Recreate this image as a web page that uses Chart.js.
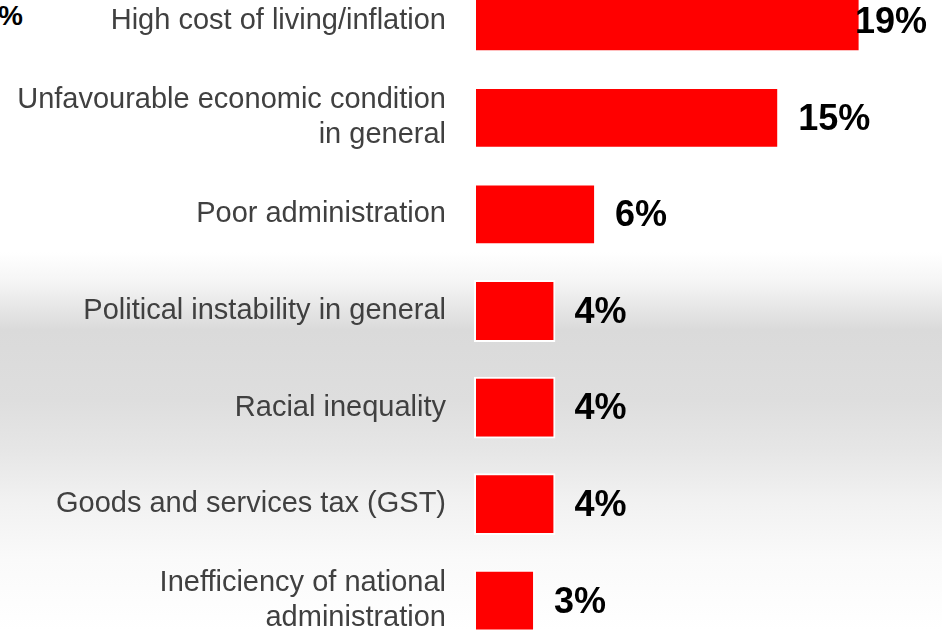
<!DOCTYPE html>
<html>
<head>
<meta charset="utf-8">
<script src="https://cdn.jsdelivr.net/npm/chart.js@4.4.1/dist/chart.umd.min.js"></script>
<style>
    html, body {
        margin: 0;
        padding: 0;
        width: 942px;
        height: 631px;
        overflow: hidden;
    }
    body {
        position: relative;
        background: linear-gradient(to bottom,
            #ffffff 0px, #ffffff 252px, #f6f6f6 280px, #dadada 330px,
            #dedede 400px, #e6e6e6 450px, #f1f1f1 500px, #fafafa 560px, #ffffff 631px);
    }
    #wrap {
        position: absolute;
        left: 0;
        top: -27px;
        width: 942px;
        height: 676px;
    }
    #cut {
        position: absolute;
        left: -2px;
        top: 0px;
        font: bold 28px "Liberation Sans", Arial, sans-serif;
        color: #000;
    }
</style>
</head>
<body>
<div id="cut">%</div>
<div id="wrap"><canvas id="myChart"></canvas></div>
<script>
const categories = [
    "High cost of living/inflation",
    ["Unfavourable economic condition", "in general"],
    "Poor administration",
    "Political instability in general",
    "Racial inequality",
    "Goods and services tax (GST)",
    ["Inefficiency of national", "administration"],
];
const values = [19, 15, 6, 4, 4, 4, 3];
const value_labels = ["19%", "15%", "6%", "4%", "4%", "4%", "3%"];

// draws the bold percentages next to the bars
const valueLabels = {
    id: "valueLabels",
    afterDatasetsDraw(chart) {
        const ctx = chart.ctx;
        const meta = chart.getDatasetMeta(0);
        ctx.save();
        ctx.font = "bold 36px 'Liberation Sans', Arial, sans-serif";
        ctx.fillStyle = "#000000";
        ctx.textBaseline = "middle";
        ctx.textAlign = "left";
        meta.data.forEach(function (bar, i) {
            const txt = value_labels[i];
            const w = ctx.measureText(txt).width;
            let x = bar.x + 19;
            if (x + w > 927) x = 927 - w;
            ctx.fillText(txt, x, bar.y + 2);
        });
        ctx.restore();
    },
};

const config = {
    type: "bar",
    data: {
        labels: categories,
        datasets: [
            {
                data: values,
                backgroundColor: "#ff0000",
                borderColor: "#ffffff",
                borderWidth: 2,
                borderSkipped: false,
                barPercentage: 0.64,
                categoryPercentage: 1,
            },
        ],
    },
    options: {
        indexAxis: "y",
        responsive: true,
        maintainAspectRatio: false,
        animation: false,
        layout: { padding: 0 },
        plugins: {
            legend: { display: false },
            tooltip: { enabled: false },
        },
        scales: {
            x: {
                display: false,
                min: 0,
                max: 23,
            },
            y: {
                grid: { display: false, drawTicks: false },
                border: { display: false },
                ticks: {
                    padding: 28,
                    color: "#404040",
                    font: { family: "'Liberation Sans', Arial, sans-serif", size: 29, lineHeight: 1.2 },
                },
                afterFit: function (scale) {
                    scale.width = 474;
                    scale.paddingTop = 0;
                    scale.paddingBottom = 0;
                },
            },
        },
    },
    plugins: [valueLabels],
};

const ctx1 = document.getElementById("myChart").getContext("2d");
const chart = new Chart(ctx1, config);
</script>
</body>
</html>
